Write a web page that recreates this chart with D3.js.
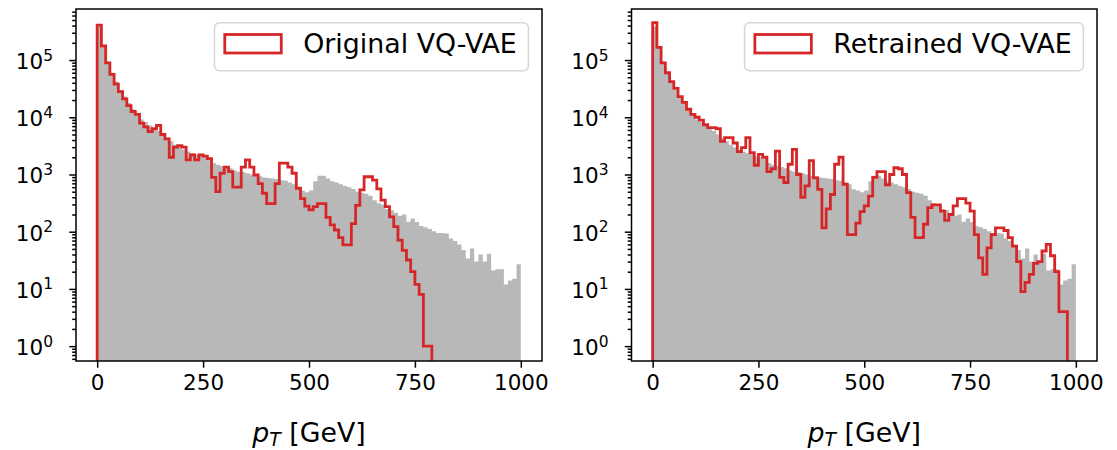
<!DOCTYPE html>
<html>
<head>
<meta charset="utf-8">
<script src="https://cdn.jsdelivr.net/npm/d3@7"></script>
<style>
  body { margin: 0; background: #fff; }
  text { font-family: "DejaVu Sans", sans-serif; fill: #000; }
</style>
</head>
<body>
<div id="chart"></div>
<script>
// Histogram binning: 100 bins of 10 GeV from 0 to 1000
let binWidth = 10
let binCount = 100
let xTicks = [0, 250, 500, 750, 1000]
let yTickExps = [0, 1, 2, 3, 4, 5]
let panelLabels = ['Original VQ-VAE', 'Retrained VQ-VAE']

// Truth (gray filled) counts per bin
let truthCounts = [
  380000, 166000, 93000, 60000, 42000, 30000, 23000, 17800, 13800, 11200,
  9100, 8300, 7200, 6300, 5750, 5000, 4400, 3800, 3300, 2950,
  2700, 2500, 2350, 2240, 2090, 2000, 1860, 1580, 1480, 1410,
  1350, 1290, 1170, 1120, 1100, 1050, 1000, 955, 930, 890,
  870, 850, 830, 790, 775, 725, 675, 550, 525, 490,
  525, 760, 955, 955, 850, 760, 725, 675, 630, 600,
  560, 500, 480, 460, 425, 355, 315, 295, 250, 240,
  215, 190, 200, 150, 170, 148, 126, 120, 112, 102,
  95, 95, 93, 76, 69, 60, 48, 34, 51, 30,
  40, 30, 41, 21, 22, 22, 12, 14, 15, 27
]

// Original VQ-VAE reconstruction (red step) counts per bin
let originalCounts = [
  407000, 176000, 89000, 56000, 38000, 28000, 21000, 16000, 12600, 11200,
  7900, 6800, 5600, 6300, 7200, 5000, 4200, 2000, 3000, 3200,
  3000, 1800, 2200, 1800, 2200, 2100, 1900, 890, 500, 1050,
  1350, 1120, 600, 600, 1350, 1800, 1350, 980, 690, 470,
  310, 310, 690, 1580, 1580, 1350, 1050, 575, 380, 280,
  240, 275, 310, 310, 178, 132, 107, 79, 59, 59,
  138, 288, 537, 912, 912, 794, 562, 355, 275, 182,
  123, 71, 47, 32, 20, 12, 8, 1, 1, 0,
  0, 0, 0, 0, 0, 0, 0, 0, 0, 0,
  0, 0, 0, 0, 0, 0, 0, 0, 0, 0
]

// Retrained VQ-VAE reconstruction (red step) counts per bin
let retrainedCounts = [
  450000, 166000, 89000, 60000, 42000, 32000, 23000, 18200, 13800, 11200,
  10000, 8900, 7400, 6600, 6600, 6300, 3800, 4400, 4400, 3550,
  2500, 2950, 4400, 2400, 1450, 2240, 2000, 1120, 1260, 2570,
  890, 725, 1510, 2750, 1000, 400, 630, 1740, 870, 550,
  117, 250, 447, 1510, 2000, 675, 89, 89, 141, 224,
  282, 417, 890, 1120, 1120, 660, 1000, 1320, 1260, 1000,
  480, 178, 79, 79, 135, 263, 295, 295, 229, 158,
  200, 282, 380, 380, 316, 229, 89, 35, 18, 52,
  89, 117, 117, 105, 79, 56, 30, 9, 13, 18,
  28, 30, 46, 60, 38, 20, 4, 4, 0, 0
]

// Layout constants
let width = 1117
let height = 450
let plotTop = 9
let plotBottom = 361
let panels = [
  {left: 76, right: 542, counts: originalCounts, label: panelLabels[0]},
  {left: 631.5, right: 1097, counts: retrainedCounts, label: panelLabels[1]}
]
let xDomain = [-50, 1050]
let yDomain = [0.55, 7.8e5]
let grayColor = '#b8b8b8'
let redColor = '#d62728'
let tickFont = 21.5
let bigFont = 26.8
let majorLen = 6.7
let minorLen = 3.8

let svg = d3.select('#chart')
  .append('svg')
  .attr('width', width)
  .attr('height', height)

// minor tick positions on the log axis (2..9 x 10^k)
let minorTicks = []
for (let k = -1; k <= 5; k++) {
  for (let m = 2; m <= 9; m++) {
    let v = m * Math.pow(10, k)
    if (v > yDomain[0] && v < yDomain[1]) minorTicks.push(v)
  }
}

panels.forEach(function(p, pi) {
  let x = d3.scaleLinear().domain(xDomain).range([p.left, p.right])
  let y = d3.scaleLog().domain(yDomain).range([plotBottom, plotTop])
  let g = svg.append('g')

  // clip to the axes box
  let clipId = 'clip-' + pi
  g.append('clipPath').attr('id', clipId)
    .append('rect')
    .attr('x', p.left).attr('y', plotTop)
    .attr('width', p.right - p.left).attr('height', plotBottom - plotTop)

  let plot = g.append('g').attr('clip-path', `url(#${clipId})`)

  // gray filled histogram
  let truthPts = truthCounts.map(function(c, i) { return {x: i * binWidth, c: c} })
  truthPts.push({x: binCount * binWidth, c: truthCounts[binCount - 1]})
  let area = d3.area()
    .curve(d3.curveStepAfter)
    .x(function(d) { return x(d.x) })
    .y0(plotBottom)
    .y1(function(d) { return y(d.c) })
  plot.append('path')
    .attr('d', area(truthPts))
    .style('fill', grayColor)

  // red step histogram (empty bins drop below the axes)
  let yv = function(c) { return c > 0 ? y(c) : plotBottom + 10 }
  let stepPts = [{x: 0, y: plotBottom + 10}]
  p.counts.forEach(function(c, i) { stepPts.push({x: i * binWidth, y: yv(c)}) })
  stepPts.push({x: binCount * binWidth, y: yv(p.counts[binCount - 1])})
  stepPts.push({x: binCount * binWidth, y: plotBottom + 10})
  let line = d3.line()
    .curve(d3.curveStepAfter)
    .x(function(d) { return x(d.x) })
    .y(function(d) { return d.y })
  plot.append('path')
    .attr('d', line(stepPts))
    .style('fill', 'none')
    .style('stroke', redColor)
    .style('stroke-width', 2.8)
    .style('stroke-linejoin', 'miter')

  // x axis ticks
  let xAxis = d3.axisBottom(x)
    .tickValues(xTicks)
    .tickSize(majorLen)
    .tickSizeOuter(0)
    .tickFormat(d3.format('d'))
  let gx = g.append('g')
    .attr('transform', `translate(0,${plotBottom})`)
    .call(xAxis)
  gx.select('.domain').remove()
  gx.selectAll('line').style('stroke', '#000').style('stroke-width', 1.5)
  gx.selectAll('text')
    .style('font-size', tickFont + 'px')
    .attr('dy', null)
    .attr('y', majorLen + 6 + 0.76 * tickFont)

  // y axis ticks (major + minor)
  let yMajor = d3.axisLeft(y)
    .tickValues(yTickExps.map(function(e) { return Math.pow(10, e) }))
    .tickSize(majorLen).tickSizeOuter(0).tickFormat('')
  let yMinor = d3.axisLeft(y)
    .tickValues(minorTicks)
    .tickSize(minorLen).tickSizeOuter(0).tickFormat('')
  ;[yMajor, yMinor].forEach(function(ax) {
    let gy = g.append('g').attr('transform', `translate(${p.left},0)`).call(ax)
    gy.select('.domain').remove()
    gy.selectAll('line').style('stroke', '#000').style('stroke-width', 1.5)
  })

  // y tick labels like 10^5
  yTickExps.forEach(function(e) {
    let t = g.append('text')
      .attr('x', p.left - 23)
      .attr('y', y(Math.pow(10, e)) + 9)
      .attr('text-anchor', 'end')
      .style('font-size', tickFont + 'px')
    t.append('tspan').text('10')
    t.append('tspan')
      .attr('dy', -8.5)
      .style('font-size', (tickFont * 0.72) + 'px')
      .text(e)
  })

  // frame
  g.append('rect')
    .attr('x', p.left).attr('y', plotTop)
    .attr('width', p.right - p.left).attr('height', plotBottom - plotTop)
    .style('fill', 'none')
    .style('stroke', '#000')
    .style('stroke-width', 1.5)

  // x label: p_T [GeV]
  let xl = g.append('text')
    .attr('x', (p.left + p.right) / 2)
    .attr('y', 442)
    .attr('text-anchor', 'middle')
    .style('font-size', bigFont + 'px')
  xl.append('tspan').style('font-style', 'italic').text('p')
  xl.append('tspan').style('font-style', 'italic')
    .style('font-size', (bigFont * 0.7) + 'px')
    .attr('dy', 4).text('T')
  xl.append('tspan').attr('dy', -4).text(' [GeV]')

  // legend, upper right
  let lg = g.append('g')
  let box = lg.append('rect')
  let lt = lg.append('text')
    .attr('y', 53)
    .style('font-size', bigFont + 'px')
    .text(p.label)
  let boxRight = p.right - 13.6
  let textEnd = boxRight - 11.6
  let textLen = lt.node().getComputedTextLength()
  let textStart = textEnd - textLen
  let handleRight = textStart - 22
  let handleLeft = handleRight - 56.5
  let boxLeft = handleLeft - 10.3
  lt.attr('x', textStart)
  box.attr('x', boxLeft).attr('y', 22.7)
    .attr('width', boxRight - boxLeft).attr('height', 48)
    .attr('rx', 5).attr('ry', 5)
    .style('fill', 'rgba(255,255,255,0.8)')
    .style('stroke', '#d6d6d6')
    .style('stroke-width', 1.5)
  lg.append('rect')
    .attr('x', handleLeft).attr('y', 34.5)
    .attr('width', handleRight - handleLeft).attr('height', 18.5)
    .style('fill', 'none')
    .style('stroke', redColor)
    .style('stroke-width', 2.8)
})
</script>
</body>
</html>
